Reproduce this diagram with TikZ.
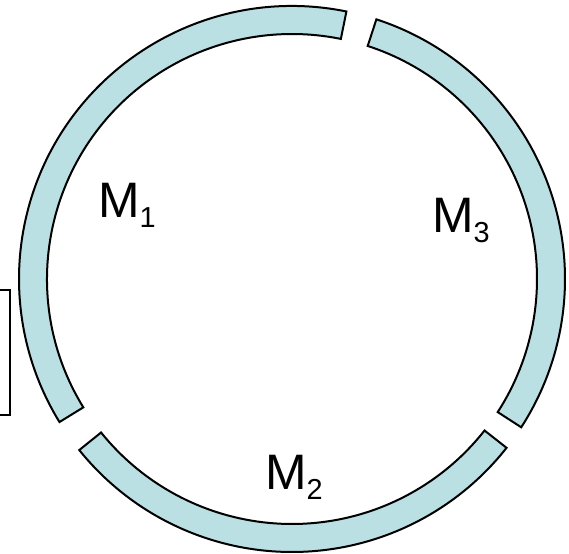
\documentclass[tikz,border=0pt]{standalone}
\usepackage{fontspec}
\setmainfont{Liberation Sans}
\usepackage{tikz}
\definecolor{ringblue}{RGB}{187,224,227}
\newcommand{\ringsegment}[2]{\draw[ringband] (#1:273bp) arc (#1:#2:273bp) -- (#2:245bp) arc (#2:#1:245bp) -- cycle;}
\newcommand{\msub}[1]{M\raisebox{-10bp}{\fontsize{29}{30}\selectfont #1}}
\tikzset{ringband/.style={draw=black, line width=2bp, fill=ringblue},
  mlabel/.style={anchor=base west, inner sep=0pt, font=\fontsize{50}{60}\selectfont}}

\begin{document}
\begin{tikzpicture}[x=1bp, y=1bp]
\clip (0,0) rectangle (569,554);
\draw[line width=2.6bp] (-10,264) rectangle (10,139);
\begin{scope}[shift={(292,275)}]
\ringsegment{78.5}{211.6}
\ringsegment{218.8}{321.8}
\ringsegment{-32.9}{72}
\end{scope}
\node[mlabel] (m1) at (98,336) {\msub{1}};
\node[mlabel] (m2) at (265,64) {\msub{2}};
\node[mlabel] (m3) at (432,321) {\msub{3}};
\end{tikzpicture}
\end{document}
